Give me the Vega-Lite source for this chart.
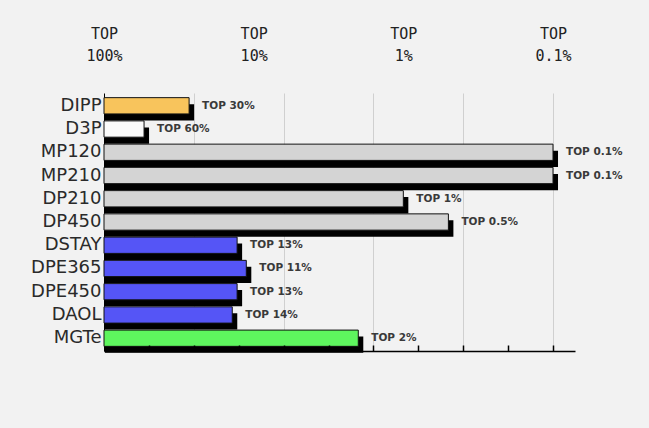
{
  "$schema": "https://vega.github.io/schema/vega-lite/v6.json",
  "width": 471,
  "height": 258,
  "autosize": {"type": "none"},
  "padding": {"left": 104, "top": 93, "right": 74, "bottom": 77},
  "background": "#f2f2f2",
  "config": {"view": {"stroke": null}},
  "data": {"values": [
    {"name": "DIPP", "top": 27, "label": "TOP 30%", "kind": "DIPP"},
    {"name": "D3P", "top": 54, "label": "TOP 60%", "kind": "D3P"},
    {"name": "MP120", "top": 0.1, "label": "TOP 0.1%", "kind": "DP"},
    {"name": "MP210", "top": 0.1, "label": "TOP 0.1%", "kind": "DP"},
    {"name": "DP210", "top": 1, "label": "TOP 1%", "kind": "DP"},
    {"name": "DP450", "top": 0.5, "label": "TOP 0.5%", "kind": "DP"},
    {"name": "DSTAY", "top": 12.9, "label": "TOP 13%", "kind": "DPE"},
    {"name": "DPE365", "top": 11.2, "label": "TOP 11%", "kind": "DPE"},
    {"name": "DPE450", "top": 12.9, "label": "TOP 13%", "kind": "DPE"},
    {"name": "DAOL", "top": 13.9, "label": "TOP 14%", "kind": "DPE"},
    {"name": "MGTe", "top": 2.0, "label": "TOP 2%", "kind": "MGTe"}
  ]},
  "resolve": {"axis": {"x": "independent"}},
  "layer": [
    {
      "mark": {"type": "bar", "color": "#000000", "xOffset": 5, "x2Offset": 1, "yOffset": 6.5, "y2Offset": 6.5},
      "encoding": {
        "y": {"field": "name", "type": "nominal", "sort": null,
              "scale": {"paddingInner": 0.3, "paddingOuter": 0.2},
              "axis": {"title": null, "labelFont": "DejaVu Sans", "labelFontSize": 18, "labelColor": "#2a2a2a", "labelPadding": 3, "ticks": false, "domain": true, "domainColor": "#000000", "grid": false}},
        "x": {"field": "top", "type": "quantitative",
              "scale": {"type": "log", "domain": [0.0713, 100], "reverse": true, "nice": false, "zero": false},
              "axis": {"orient": "bottom", "title": null, "values": [25.12, 6.31, 1.585, 0.3981, 0.1], "grid": true, "gridColor": "#d0d0d0", "gridWidth": 1, "labels": false, "ticks": false, "domain": false}},
        "x2": {"datum": 100}
      }
    },
    {
      "mark": {"type": "bar", "stroke": "#111111", "strokeWidth": 1},
      "encoding": {
        "y": {"field": "name", "type": "nominal", "sort": null},
        "x": {"field": "top", "type": "quantitative",
              "axis": {"orient": "bottom", "title": null, "values": [50.12, 25.12, 12.59, 6.31, 3.162, 1.585, 0.7943, 0.3981, 0.1995, 0.1], "grid": false, "labels": false, "tickSize": -6, "tickColor": "#000000", "tickWidth": 1.5, "domainColor": "#000000", "domainWidth": 1.5, "zindex": 1}},
        "x2": {"datum": 100},
        "color": {"field": "kind", "type": "nominal", "legend": null,
                  "scale": {"domain": ["DIPP", "D3P", "DP", "DPE", "MGTe"], "range": ["#f8c45c", "#fbfbfb", "#d4d4d4", "#5555f6", "#5ef65e"]}}
      }
    },
    {
      "mark": {"type": "text", "align": "left", "dx": 13, "font": "DejaVu Sans", "fontWeight": "bold", "fontSize": 10.5, "color": "#3a3a3a"},
      "encoding": {
        "y": {"field": "name", "type": "nominal", "sort": null},
        "x": {"field": "top", "type": "quantitative",
              "axis": {"orient": "top", "title": null, "values": [100, 10, 1, 0.1], "labelExpr": "['TOP', datum.value >= 1 ? format(datum.value, 'd') + '%' : '0.1%']", "labelFlush": false, "labelAlign": "center", "grid": false, "ticks": false, "domain": false, "labelFont": "DejaVu Sans Mono", "labelFontSize": 15, "labelColor": "#222222", "labelPadding": 52, "labelLineHeight": 22}},
        "text": {"field": "label"}
      }
    }
  ]
}
